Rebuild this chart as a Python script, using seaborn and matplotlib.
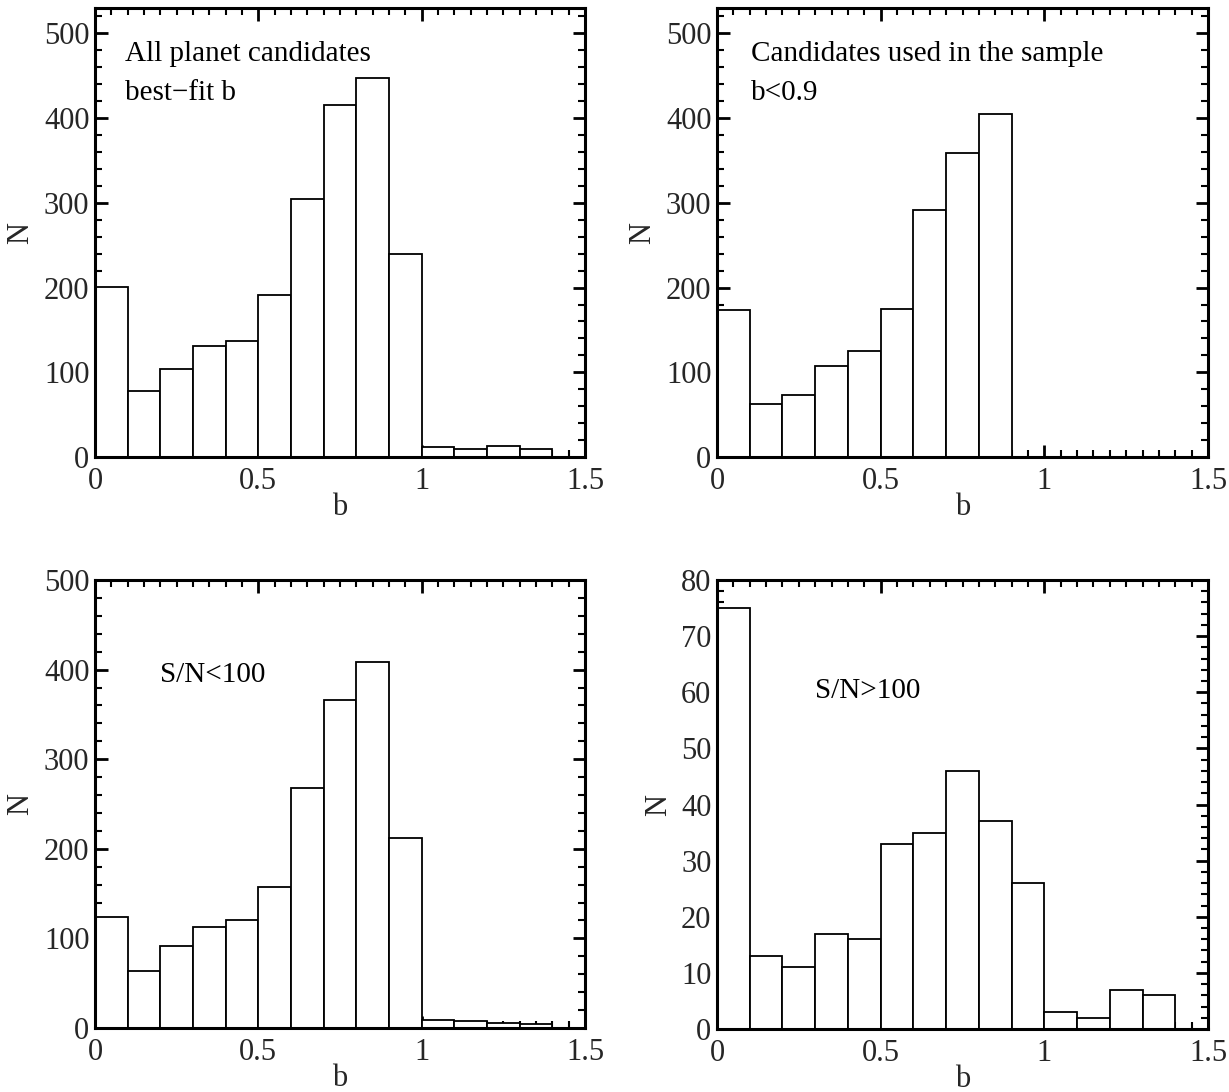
import numpy as np
import pandas as pd
import matplotlib
matplotlib.use("Agg")
import matplotlib.pyplot as plt
from matplotlib.ticker import MultipleLocator, FixedLocator, FixedFormatter
import seaborn as sns

# Impact-parameter histograms (bin width 0.1 in b)
bin_edges = [0.0, 0.1, 0.2, 0.3, 0.4, 0.5, 0.6, 0.7, 0.8, 0.9, 1.0, 1.1, 1.2, 1.3, 1.4]
counts_all = [201, 78, 104, 131, 137, 191, 305, 415, 447, 240, 12, 9, 13, 9]
counts_used = [174, 63, 73, 107, 125, 175, 291, 359, 405]
counts_low_snr = [124, 64, 91, 113, 120, 157, 268, 366, 408, 212, 9, 8, 6, 4]
counts_high_snr = [75, 13, 11, 17, 16, 33, 35, 46, 37, 26, 3, 2, 7, 6]

xtick_values = [0.0, 0.5, 1.0, 1.5]
xtick_labels = ["0", "0.5", "1", "1.5"]

sns.set_theme(style="white")
plt.rcParams["font.family"] = ["Liberation Serif", "DejaVu Serif"]

W, H = 1229, 1092
fig = plt.figure(figsize=(W / 100, H / 100), dpi=100)


def px_axes(left, top, right, bottom):
    return fig.add_axes([left / W, 1 - bottom / H, (right - left) / W, (bottom - top) / H])


panels = [
    dict(box=(95, 8, 585, 457), counts=counts_all, ymax=530, ymaj=100, ymin=20,
         notes=[(0.092, 468, "All planet candidates"), (0.092, 421, "best\u2212fit b")]),
    dict(box=(717, 8, 1208, 457), counts=counts_used, ymax=530, ymaj=100, ymin=20,
         notes=[(0.104, 468, "Candidates used in the sample"), (0.104, 421, "b<0.9")]),
    dict(box=(95, 580, 585, 1028), counts=counts_low_snr, ymax=500, ymaj=100, ymin=20,
         notes=[(0.2, 386, "S/N<100")]),
    dict(box=(717, 580, 1208, 1029), counts=counts_high_snr, ymax=80, ymaj=10, ymin=2,
         notes=[(0.3, 59, "S/N>100")]),
]

for p in panels:
    ax = px_axes(*p["box"])
    counts = p["counts"]
    edges = bin_edges[: len(counts) + 1]
    centers = [(edges[i] + edges[i + 1]) / 2 for i in range(len(counts))]
    df = pd.DataFrame({"b": centers, "n": counts})
    sns.histplot(data=df, x="b", weights="n", bins=edges, ax=ax,
                 color="white", edgecolor="black", linewidth=1.3, alpha=1.0)

    ax.set_xlim(0, 1.5)
    ax.set_ylim(0, p["ymax"])
    ax.xaxis.set_major_locator(FixedLocator(xtick_values))
    ax.xaxis.set_major_formatter(FixedFormatter(xtick_labels))
    ax.xaxis.set_minor_locator(MultipleLocator(0.05))
    ax.yaxis.set_major_locator(MultipleLocator(p["ymaj"]))
    ax.yaxis.set_minor_locator(MultipleLocator(p["ymin"]))

    ax.tick_params(which="both", direction="in", top=True, right=True,
                   bottom=True, left=True, color="black")
    ax.tick_params(which="major", length=9, width=2.0, labelsize=22, pad=7)
    ax.tick_params(which="minor", length=5, width=1.5)
    ax.tick_params(axis="y", which="major", pad=4)

    for s in ax.spines.values():
        s.set_visible(True)
        s.set_color("black")
        s.set_linewidth(2.2)

    ax.set_xlabel("b", fontsize=22, labelpad=-2)
    ax.set_ylabel("N", fontsize=22, labelpad=6)

    for x, y, t in p["notes"]:
        ax.text(x, y, t, fontsize=21, ha="left", va="baseline", color="black")

fig.savefig("out.png", dpi=100, facecolor="white")
